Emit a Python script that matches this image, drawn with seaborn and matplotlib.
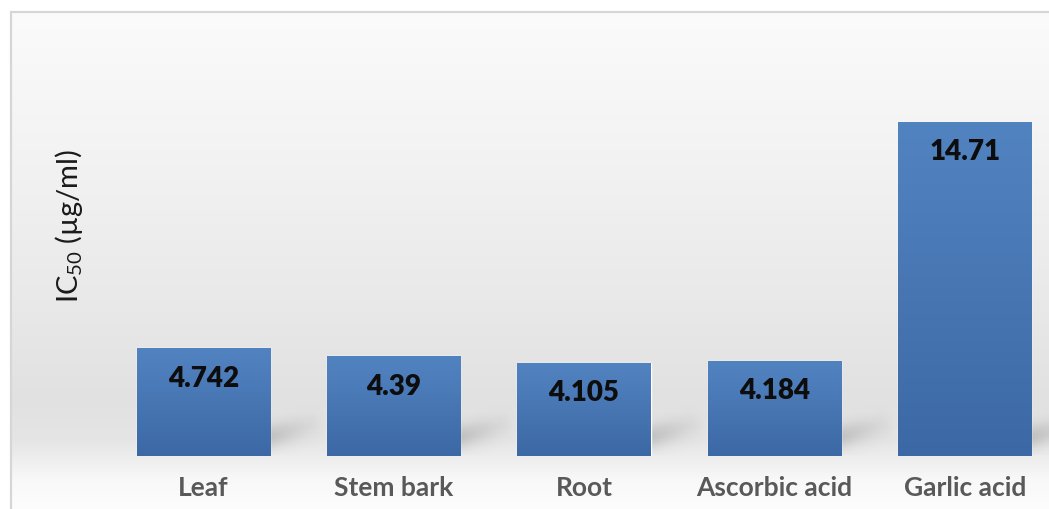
import numpy as np
import matplotlib
matplotlib.use("Agg")
import matplotlib.pyplot as plt
import seaborn as sns
from matplotlib.colors import to_rgb

categories = ["Leaf", "Stem bark", "Root", "Ascorbic acid", "Garlic acid"]
values = [4.742, 4.39, 4.105, 4.184, 14.71]
value_labels = ["4.742", "4.39", "4.105", "4.184", "14.71"]
y_label = "$\\mathregular{IC_{50}}$ (µg/ml)"

sns.set_theme(style="white")
plt.rcParams['font.family'] = ['Lato', 'DejaVu Sans']

W, H = 1049, 510
fig = plt.figure(figsize=(W / 100, H / 100), dpi=100)
fig.patch.set_facecolor("white")

# background panel with soft vertical gradient
bg = fig.add_axes([0, 0, 1, 1], zorder=0)
bg.set_axis_off()
stops_y = [0, 13, 150, 300, 400, 440, 460, 480, 510]
stops_g = [251, 251, 243, 233, 225, 229, 238, 248, 253]
rows = np.interp(np.arange(H), stops_y, stops_g) / 255.0
img = np.repeat(rows[:, None], W, axis=1)
img = np.dstack([img, img, img])
img[:13, :, :] = 1.0
img[:, :11, :] = 1.0
bg.imshow(img, extent=(0, W, H, 0), aspect="auto", interpolation="bilinear")
bg.plot([11, 11], [13, H], color="#d6d6d6", lw=1.6)
bg.plot([11, W], [13, 13], color="#d6d6d6", lw=1.6)
bg.set_xlim(0, W)
bg.set_ylim(H, 0)

# main axes
ax = fig.add_axes([108 / W, 1 - 457 / H, 952 / W, (457 - 14.3) / H], zorder=1)
ax.patch.set_alpha(0)
sns.barplot(x=categories, y=values, color="#4a7ab8", width=0.7, ax=ax,
            saturation=1, zorder=3)
ax.set_xlim(-0.5, 4.5)
ax.set_ylim(0, 19.5)

top_c = np.array(to_rgb("#5283c1"))
bot_c = np.array(to_rgb("#3c69a5"))
for p in ax.patches:
    x0, w, h = p.get_x(), p.get_width(), p.get_height()
    # bar gradient
    t = np.linspace(0, 1, 100)[:, None]
    grad = top_c[None, :] * (1 - t) + bot_c[None, :] * t
    grad = np.repeat(grad[:, None, :], 2, axis=1)
    im = ax.imshow(grad, extent=(x0, x0 + w, 0, h), aspect="auto",
                   origin="upper", zorder=3.5, interpolation="bilinear")
    im.set_clip_path(p)
    # soft shadow to the right of the bar base
    nx, ny = 80, 60
    u = np.linspace(0, 1, nx)[None, :]
    v = np.linspace(0, 1, ny)[:, None]
    ax_, ay_, bx_, by_ = 0.0, 0.35, 0.7, 0.6
    dx, dy = bx_ - ax_, by_ - ay_
    tt = np.clip(((u - ax_) * dx + (v - ay_) * dy) / (dx * dx + dy * dy), 0, 1)
    d = np.sqrt((u - (ax_ + tt * dx)) ** 2 + ((v - (ay_ + tt * dy)) * 0.8) ** 2)
    alpha = 0.30 * np.exp(-(d / 0.2) ** 2) * (1 - 0.7 * tt)
    sh = np.zeros((ny, nx, 4))
    sh[..., :3] = 0.4
    sh[..., 3] = alpha
    ax.imshow(sh, extent=(x0 + w - 0.03, x0 + w + 0.3, 0.05, 2.2),
              origin="lower", aspect="auto", zorder=2, interpolation="bilinear")

ax.set_xlim(-0.5, 4.5)
ax.set_ylim(0, 19.5)

for i, (v, lbl) in enumerate(zip(values, value_labels)):
    ax.annotate(lbl, (i, v), xytext=(0, -21), textcoords="offset points",
                ha="center", va="center", fontsize=20, fontweight="heavy",
                color="#0d0d0d", zorder=5)

ax.set_yticks([])
ax.set_ylabel("")
ax.tick_params(axis="x", length=0, pad=14, labelsize=19, labelcolor="#595959")
for t in ax.get_xticklabels():
    t.set_fontweight("bold")
for s in ax.spines.values():
    s.set_visible(False)

fig.text(69 / W, 1 - 226 / H, y_label, rotation=90, ha="center", va="center",
         fontsize=21, color="#1a1a1a")

fig.savefig("out.png", dpi=100)
